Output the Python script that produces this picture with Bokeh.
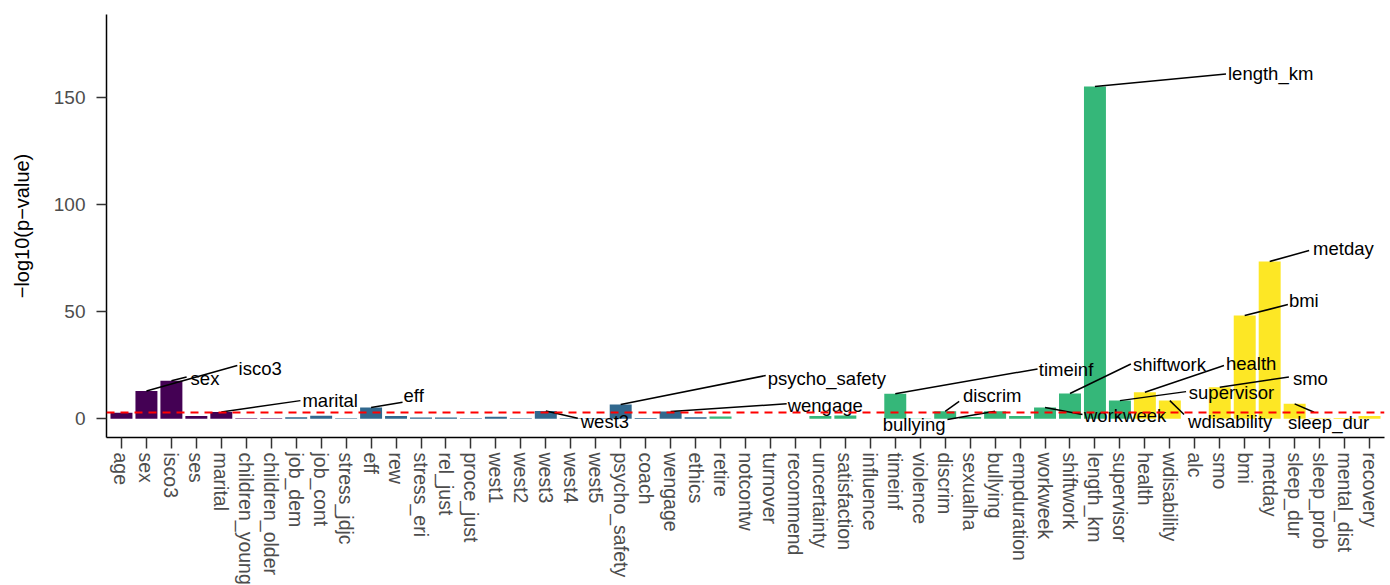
from bokeh.plotting import figure
from bokeh.models import Range1d, FixedTicker, Span
from bokeh.embed import file_html
from bokeh.resources import INLINE
from bokeh.core.properties import value

# ---------------- data ----------------
categories = [
    "age", "sex", "isco3", "ses", "marital", "children_young", "children_older",
    "job_dem", "job_cont", "stress_jdjc", "eff", "rew", "stress_eri", "rel_just",
    "proce_just", "west1", "west2", "west3", "west4", "west5", "psycho_safety",
    "coach", "wengage", "ethics",
    "retire", "notcontw", "turnover", "recommend", "uncertainty", "satisfaction",
    "influence", "timeinf", "violence", "discrim", "sexualha", "bullying",
    "empduration", "workweek", "shiftwork", "length_km", "supervisor",
    "health", "wdisability", "alc", "smo", "bmi", "metday", "sleep_dur",
    "sleep_prob", "mental_dist", "recovery",
]
neg_log10_p = [
    2.8, 13.0, 17.8, 1.3, 3.2, 0.3, 0.3,
    0.8, 1.5, 0.3, 5.3, 1.3, 0.6, 0.6,
    0.3, 1.0, 0.3, 3.7, 0.3, 0.3, 6.7,
    0.4, 3.4, 0.7,
    1.1, 0.1, 0.1, 0.1, 1.3, 1.6,
    0.1, 11.7, 0.2, 3.5, 0.9, 3.5,
    1.3, 5.3, 11.8, 155.0, 8.5,
    12.4, 8.5, 0.1, 14.7, 48.2, 73.4, 7.0,
    0.3, 0.4, 1.3,
]
groups = (["sociodemographic"] * 7 + ["psychosocial"] * 17 +
          ["work"] * 17 + ["health"] * 10)
group_colors = {
    "sociodemographic": "#440154",
    "psychosocial": "#31688E",
    "work": "#35B779",
    "health": "#FDE725",
}
threshold = 3.0
y_ticks = [0, 50, 100, 150]

# repel labels: text, bar the leader starts from, label/leader layout (data units)
label_text = ["isco3", "sex", "marital", "eff", "west3", "psycho_safety",
              "wengage", "timeinf", "discrim", "bullying", "workweek",
              "shiftwork", "length_km", "supervisor", "health", "wdisability",
              "smo", "bmi", "metday", "sleep_dur"]
label_anchor = ["sex", "isco3", "marital", "eff", "west3", "psycho_safety",
                "wengage", "timeinf", "discrim", "bullying", "workweek",
                "shiftwork", "length_km", "supervisor", "health", "wdisability",
                "smo", "bmi", "metday", "sleep_dur"]
label_x = [5.69, 3.77, 8.25, 12.30, 19.40, 26.89, 27.69, 37.75, 34.71, 31.50,
           39.56, 41.52, 45.33, 43.76, 45.25, 43.73, 47.93, 47.77, 48.74, 47.73]
label_y = [23.5, 18.8, 8.5, 10.9, -1.3, 18.8, 6.2, 23.0, 10.9, -2.7,
           1.5, 25.3, 161.1, 12.3, 25.8, -1.3, 18.8, 55.2, 79.4, -1.7]
leader_end_x = [5.64, 3.61, 8.17, 12.26, 19.28, 26.81, 27.65, 37.70, 34.56, 34.09,
                39.50, 41.44, 45.25, 43.65, 45.17, 43.57, 47.77, 47.73, 48.58, 48.78]
leader_end_y = [24.9, 19.5, 8.5, 7.7, 0.3, 20.2, 7.0, 23.3, 8.2, -0.3,
                2.0, 25.6, 160.9, 12.7, 24.9, 2.0, 19.5, 53.3, 78.5, 3.1]

# ---------------- plot ----------------
FONT = "Liberation Sans"
xs = list(range(1, len(categories) + 1))
colors = [group_colors[g] for g in groups]

p = figure(
    frame_width=1278, frame_height=423,
    min_border_left=106, min_border_top=14, min_border_right=4, min_border_bottom=10,
    x_range=Range1d(0.4, len(categories) + 0.6),
    y_range=Range1d(-8.7, 188.6),
    output_backend="svg", toolbar_location=None,
    background_fill_color="white", border_fill_color="white",
)
p.outline_line_color = None
p.xgrid.visible = False
p.ygrid.visible = False

p.vbar(x=xs, top=neg_log10_p, bottom=0, width=0.88,
       fill_color=colors, line_color=None)

p.add_layout(Span(location=threshold, dimension="width", line_color="#FF0000",
                  line_dash="8 6", line_width=2))

idx = {c: i + 1 for i, c in enumerate(categories)}
x0 = [idx[a] for a in label_anchor]
y0 = [neg_log10_p[idx[a] - 1] for a in label_anchor]
p.segment(x0=x0, y0=y0, x1=leader_end_x, y1=leader_end_y,
          line_color="black", line_width=1.5)
p.text(x=label_x, y=label_y, text=label_text,
       text_font=value(FONT), text_font_size="18.5px", text_color="black",
       text_align="left", text_baseline="middle")

# x axis
xa = p.xaxis[0]
xa.ticker = FixedTicker(ticks=xs)
xa.major_label_overrides = {i: c for i, c in zip(xs, categories)}
xa.major_label_orientation = "vertical"
xa.minor_tick_line_color = None
xa.major_tick_out = 11
xa.major_tick_in = 0
xa.major_label_standoff = 4
xa.major_label_text_font = FONT
xa.major_label_text_font_size = "19.5px"
xa.major_label_text_color = "#4D4D4D"
xa.axis_line_color = "black"
xa.axis_line_width = 1.5
xa.major_tick_line_color = "#333333"
xa.major_tick_line_width = 1.5

# y axis
ya = p.yaxis[0]
ya.ticker = FixedTicker(ticks=y_ticks)
ya.minor_tick_line_color = None
ya.major_tick_out = 10
ya.major_tick_in = 0
ya.major_label_standoff = 11
ya.major_label_text_font = FONT
ya.major_label_text_font_size = "19px"
ya.major_label_text_color = "#4D4D4D"
ya.axis_line_color = "black"
ya.axis_line_width = 1.5
ya.major_tick_line_color = "#333333"
ya.major_tick_line_width = 1.5
ya.axis_label = "\u2212log10(p\u2212value)"
ya.axis_label_text_font = FONT
ya.axis_label_text_font_size = "20px"
ya.axis_label_text_font_style = "normal"
ya.axis_label_text_color = "black"
ya.axis_label_standoff = 18

open("out.html", "w").write(file_html(p, INLINE))
